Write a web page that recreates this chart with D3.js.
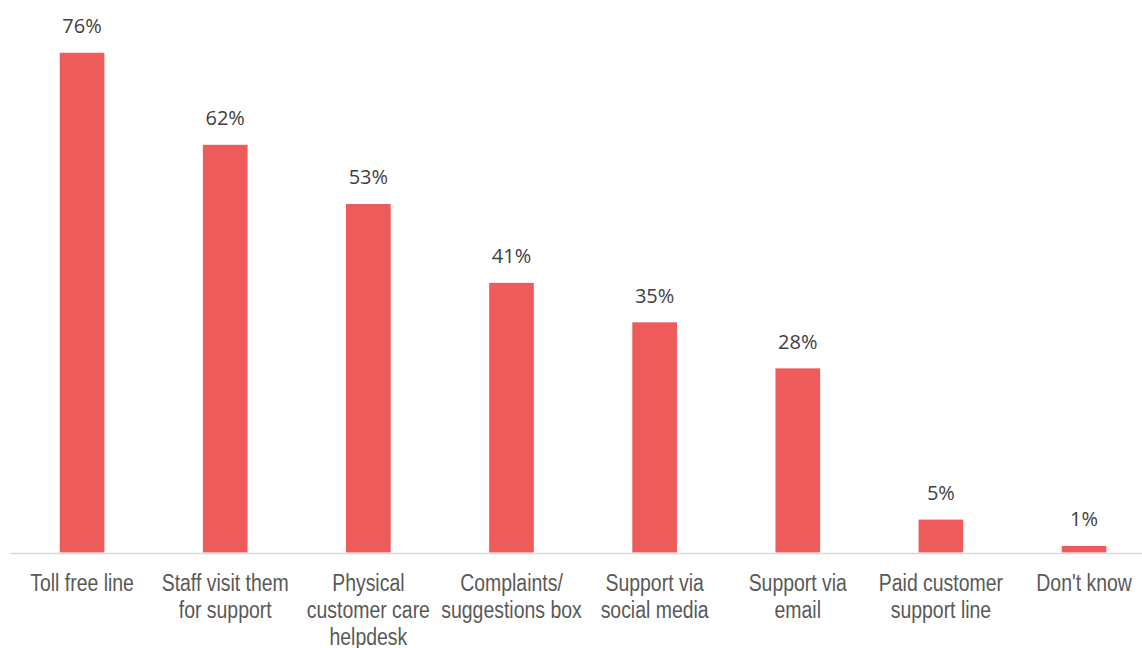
<!DOCTYPE html>
<html>
<head>
<meta charset="utf-8">
<script src="https://cdn.jsdelivr.net/npm/d3@7"></script>
<style>
  html, body { margin: 0; padding: 0; background: #ffffff; }
  svg { display: block; }
</style>
</head>
<body>
<svg id="chart" width="1142" height="648"></svg>
<script>
// Support channels and share of respondents (%)
const categories = [
  ["Toll free line"],
  ["Staff visit them", "for support"],
  ["Physical", "customer care", "helpdesk"],
  ["Complaints/", "suggestions box"],
  ["Support via", "social media"],
  ["Support via", "email"],
  ["Paid customer", "support line"],
  ["Don't know"]
];
const values = [76, 62, 53, 41, 35, 28, 5, 1];
const valueLabels = ["76%", "62%", "53%", "41%", "35%", "28%", "5%", "1%"];

const W = 1142, H = 648;
const baseY = 552.5;
const svg = d3.select("#chart");

const keys = categories.map((c, i) => i);
const x = d3.scaleBand()
  .domain(keys)
  .range([10.5, 10.5 + 8 * 143.14])
  .paddingInner(0.688)
  .paddingOuter(0.344);

const y = d3.scaleLinear()
  .domain([0, 80])
  .range([baseY, baseY - 80 * 6.576]);

// Bars
svg.append("g")
  .selectAll("rect")
  .data(values)
  .join("rect")
  .attr("x", (d, i) => x(i))
  .attr("y", d => y(d))
  .attr("width", x.bandwidth())
  .attr("height", d => y(0) - y(d))
  .attr("fill", "#ef5a5a");

// Baseline
svg.append("line")
  .attr("x1", 10).attr("x2", W)
  .attr("y1", baseY + 1).attr("y2", baseY + 1)
  .attr("stroke", "#d9d9d9")
  .attr("stroke-width", 1.5);

// Value labels
svg.append("g")
  .selectAll("text")
  .data(values)
  .join("text")
  .attr("x", (d, i) => x(i) + x.bandwidth() / 2)
  .attr("y", d => y(d) - 19.5)
  .attr("text-anchor", "middle")
  .attr("font-family", "'Open Sans', sans-serif")
  .attr("font-size", 20)
  .attr("fill", "#404040")
  .text((d, i) => valueLabels[i]);

// Category labels, set in a horizontally condensed sans
const cat = svg.append("g")
  .selectAll("g")
  .data(categories)
  .join("g")
  .attr("transform", (d, i) => `translate(${x(i) + x.bandwidth() / 2},591) scale(0.81,1)`)
  .append("text")
  .attr("x", 0)
  .attr("y", 0)
  .attr("text-anchor", "middle")
  .attr("font-family", "'Liberation Sans', Arial, sans-serif")
  .attr("font-size", 24)
  .attr("fill", "#595959");

cat.selectAll("tspan")
  .data(d => d)
  .join("tspan")
  .attr("x", 0)
  .attr("dy", (d, j) => j === 0 ? 0 : 27)
  .text(d => d);
</script>
</body>
</html>
